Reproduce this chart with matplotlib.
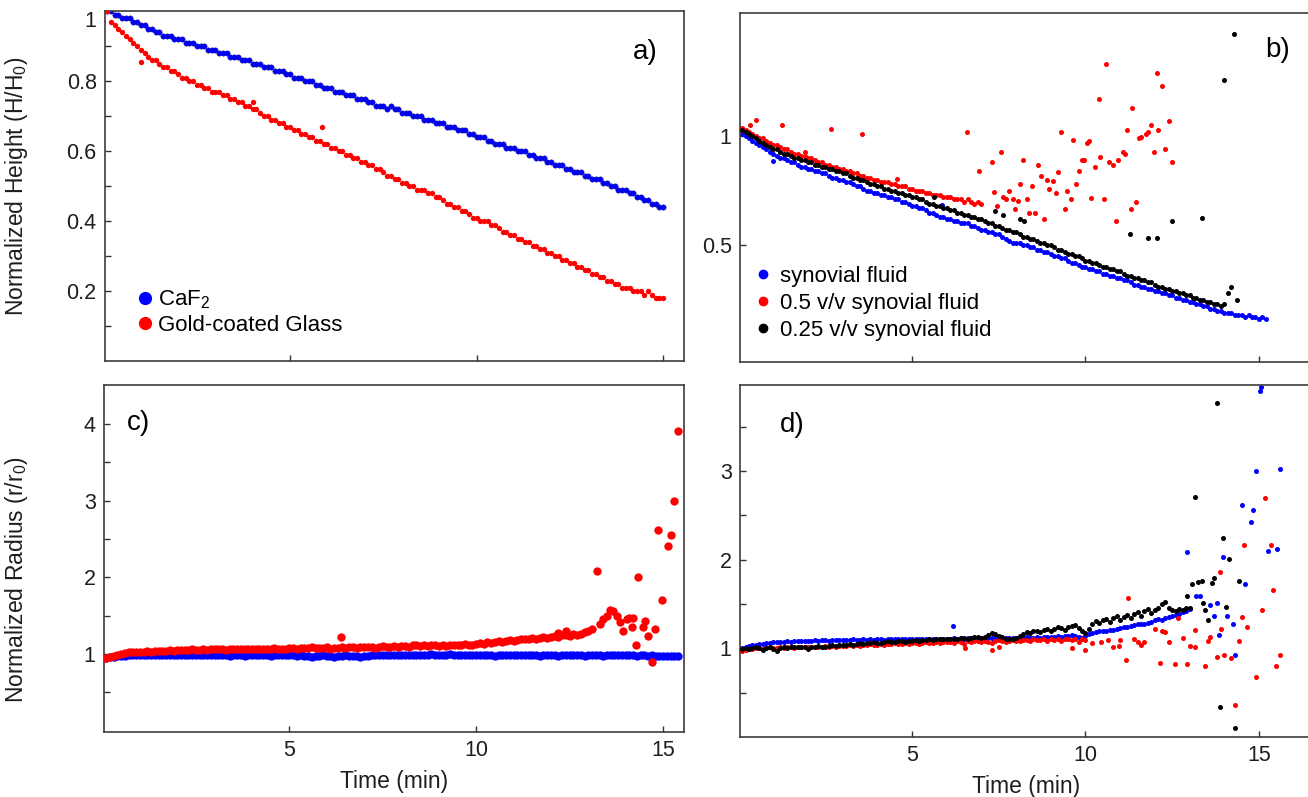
import numpy as np
import matplotlib
matplotlib.use('Agg')
import matplotlib.pyplot as plt
from matplotlib.lines import Line2D

plt.rcParams['font.family'] = ['Liberation Sans', 'DejaVu Sans']
plt.rcParams['mathtext.fontset'] = 'custom'
plt.rcParams['mathtext.rm'] = 'Liberation Sans'
plt.rcParams['mathtext.it'] = 'Liberation Sans:italic'

# ---- panel a: normalized height, sampled every 0.1 min from 0.1 min ----
blue_a = [1.00, 1.00, 0.99, 0.99, 0.98, 0.98, 0.98, 0.97, 0.97, 0.96,
          0.96, 0.95, 0.95, 0.94, 0.94, 0.93, 0.93, 0.93, 0.92, 0.92,
          0.92, 0.91, 0.91, 0.91, 0.90, 0.90, 0.90, 0.89, 0.89, 0.89,
          0.88, 0.88, 0.88, 0.87, 0.87, 0.87, 0.86, 0.86, 0.86, 0.85,
          0.85, 0.85, 0.84, 0.84, 0.84, 0.83, 0.83, 0.83, 0.82, 0.82,
          0.81, 0.81, 0.81, 0.80, 0.80, 0.80, 0.79, 0.79, 0.78, 0.78,
          0.78, 0.77, 0.77, 0.77, 0.76, 0.76, 0.76, 0.75, 0.75, 0.75,
          0.74, 0.74, 0.73, 0.73, 0.73, 0.72, 0.73, 0.72, 0.72, 0.71,
          0.71, 0.71, 0.70, 0.70, 0.70, 0.69, 0.69, 0.69, 0.68, 0.68,
          0.68, 0.67, 0.67, 0.67, 0.66, 0.66, 0.66, 0.65, 0.65, 0.64,
          0.64, 0.64, 0.63, 0.63, 0.62, 0.62, 0.62, 0.61, 0.61, 0.61,
          0.60, 0.60, 0.60, 0.59, 0.59, 0.58, 0.58, 0.58, 0.57, 0.57,
          0.56, 0.56, 0.56, 0.55, 0.55, 0.54, 0.54, 0.54, 0.53, 0.53,
          0.52, 0.52, 0.52, 0.51, 0.51, 0.50, 0.50, 0.49, 0.49, 0.49,
          0.48, 0.48, 0.47, 0.47, 0.46, 0.46, 0.45, 0.45, 0.44, 0.44]
red_a = [1.00, 0.97, 0.96, 0.95, 0.94, 0.93, 0.92, 0.91, 0.90, 0.89,
         0.88, 0.87, 0.86, 0.86, 0.85, 0.84, 0.84, 0.83, 0.83, 0.82,
         0.81, 0.81, 0.80, 0.80, 0.79, 0.79, 0.78, 0.78, 0.77, 0.77,
         0.77, 0.76, 0.76, 0.75, 0.75, 0.74, 0.74, 0.73, 0.73, 0.72,
         0.72, 0.71, 0.70, 0.70, 0.69, 0.69, 0.68, 0.68, 0.67, 0.67,
         0.66, 0.66, 0.65, 0.65, 0.64, 0.64, 0.63, 0.63, 0.62, 0.62,
         0.61, 0.61, 0.60, 0.60, 0.59, 0.59, 0.58, 0.58, 0.57, 0.57,
         0.56, 0.56, 0.55, 0.55, 0.54, 0.53, 0.53, 0.52, 0.52, 0.51,
         0.51, 0.50, 0.50, 0.49, 0.49, 0.49, 0.48, 0.48, 0.47, 0.47,
         0.46, 0.45, 0.45, 0.44, 0.44, 0.43, 0.43, 0.42, 0.41, 0.41,
         0.40, 0.40, 0.40, 0.39, 0.39, 0.38, 0.37, 0.37, 0.36, 0.36,
         0.35, 0.35, 0.34, 0.34, 0.33, 0.33, 0.32, 0.32, 0.31, 0.31,
         0.30, 0.30, 0.29, 0.29, 0.28, 0.28, 0.27, 0.27, 0.26, 0.26,
         0.25, 0.25, 0.24, 0.24, 0.23, 0.23, 0.22, 0.22, 0.21, 0.21,
         0.21, 0.20, 0.20, 0.20, 0.19, 0.20, 0.19, 0.18, 0.18, 0.18]
red_a_out_t = [1.0, 4.02, 5.85]
red_a_out_y = [0.855, 0.74, 0.669]

# ---- panel b: normalized height for the synovial fluid dilutions ----
blue_b = [1.01, 1.00, 0.99, 0.98, 0.97, 0.96, 0.95, 0.94, 0.93, 0.92,
          0.91, 0.90, 0.90, 0.89, 0.88, 0.88, 0.87, 0.86, 0.86, 0.85,
          0.85, 0.84, 0.84, 0.83, 0.83, 0.82, 0.81, 0.81, 0.80, 0.80,
          0.79, 0.79, 0.78, 0.77, 0.77, 0.76, 0.75, 0.75, 0.74, 0.74,
          0.73, 0.73, 0.72, 0.72, 0.71, 0.71, 0.70, 0.70, 0.69, 0.68,
          0.68, 0.67, 0.67, 0.66, 0.65, 0.65, 0.64, 0.63, 0.63, 0.62,
          0.62, 0.61, 0.61, 0.60, 0.60, 0.60, 0.59, 0.59, 0.58, 0.57,
          0.57, 0.56, 0.56, 0.55, 0.55, 0.54, 0.53, 0.52, 0.51, 0.51,
          0.51, 0.50, 0.50, 0.49, 0.49, 0.48, 0.48, 0.47, 0.47, 0.46,
          0.45, 0.45, 0.44, 0.44, 0.43, 0.42, 0.42, 0.41, 0.40, 0.40,
          0.39, 0.39, 0.38, 0.38, 0.37, 0.37, 0.36, 0.36, 0.35, 0.35,
          0.34, 0.34, 0.33, 0.32, 0.32, 0.31, 0.31, 0.30, 0.30, 0.29,
          0.29, 0.28, 0.28, 0.27, 0.27, 0.26, 0.26, 0.25, 0.25, 0.24,
          0.24, 0.23, 0.23, 0.22, 0.22, 0.21, 0.21, 0.20, 0.20, 0.19,
          0.19, 0.19, 0.18, 0.18, 0.18, 0.17, 0.18, 0.17, 0.17, 0.16,
          0.17, 0.16]
black_b = [1.03, 1.02, 1.01, 1.00, 0.99, 0.98, 0.97, 0.96, 0.95, 0.94,
           0.94, 0.93, 0.92, 0.92, 0.91, 0.90, 0.90, 0.89, 0.89, 0.88,
           0.88, 0.87, 0.87, 0.86, 0.86, 0.85, 0.85, 0.84, 0.84, 0.83,
           0.83, 0.82, 0.81, 0.81, 0.80, 0.80, 0.79, 0.78, 0.78, 0.77,
           0.77, 0.76, 0.76, 0.75, 0.75, 0.74, 0.74, 0.73, 0.73, 0.72,
           0.72, 0.71, 0.71, 0.70, 0.69, 0.69, 0.68, 0.68, 0.67, 0.67,
           0.66, 0.66, 0.65, 0.65, 0.64, 0.64, 0.63, 0.63, 0.62, 0.62,
           0.61, 0.60, 0.60, 0.59, 0.59, 0.58, 0.57, 0.57, 0.56, 0.56,
           0.55, 0.54, 0.54, 0.53, 0.53, 0.52, 0.51, 0.51, 0.50, 0.50,
           0.49, 0.48, 0.48, 0.47, 0.46, 0.46, 0.45, 0.45, 0.44, 0.43,
           0.43, 0.42, 0.42, 0.41, 0.40, 0.40, 0.39, 0.39, 0.38, 0.38,
           0.37, 0.36, 0.36, 0.35, 0.35, 0.34, 0.34, 0.33, 0.33, 0.32,
           0.31, 0.31, 0.30, 0.30, 0.29, 0.29, 0.28, 0.28, 0.27, 0.27,
           0.26, 0.26, 0.25, 0.25, 0.24, 0.24, 0.23, 0.23, 0.22, 0.23]
red_b = [1.04, 1.03, 1.02, 1.01, 1.00, 0.99, 0.99, 0.98, 0.97, 0.96,
         0.96, 0.95, 0.94, 0.94, 0.93, 0.92, 0.92, 0.91, 0.91, 0.90,
         0.90, 0.89, 0.88, 0.88, 0.87, 0.87, 0.86, 0.86, 0.85, 0.85,
         0.84, 0.84, 0.83, 0.83, 0.82, 0.82, 0.81, 0.81, 0.80, 0.80,
         0.79, 0.79, 0.79, 0.78, 0.78, 0.77, 0.77, 0.77, 0.76, 0.76,
         0.75, 0.75, 0.75, 0.74, 0.74, 0.73, 0.73, 0.73, 0.72, 0.72,
         0.72, 0.71, 0.71, 0.71, 0.70, 0.71, 0.70, 0.69, 0.70, 0.69]
blue_b_out_t = [1.0, 5.86]
blue_b_out_y = [0.886, 0.683]
black_b_out_t = [5.64, 7.4, 7.63, 8.12, 8.24, 11.27, 11.8, 12.05, 12.5, 13.35,
                 14.0, 14.28, 14.1, 14.2, 14.36]
black_b_out_y = [0.72, 0.655, 0.64, 0.62, 0.61, 0.55, 0.535, 0.535, 0.61, 0.625,
                 1.26, 1.47, 0.28, 0.31, 0.25]
red_b_out_t = [0.33, 0.5, 1.24, 1.92, 2.67, 3.55, 4.56, 6.58,
               6.94, 7.3, 7.37, 7.45, 7.55, 7.63, 7.72, 7.8, 7.92, 7.98,
               8.06, 8.12, 8.2, 8.3, 8.38, 8.47, 8.55, 8.64, 8.73, 8.8,
               8.9, 8.96, 9.05, 9.16, 9.22, 9.3, 9.4, 9.48, 9.57, 9.65,
               9.74, 9.8, 9.9, 9.97, 10.05, 10.1, 10.17, 10.26, 10.4, 10.43,
               10.52, 10.6, 10.67, 10.78, 10.87, 10.95, 11.07, 11.13, 11.2, 11.3,
               11.35, 11.47, 11.55, 11.6, 11.75, 11.8, 11.9, 11.97, 12.05, 12.1,
               12.2, 12.3, 12.4, 12.5]
red_b_out_y = [1.053, 1.073, 1.053, 0.927, 1.034, 1.012, 0.805, 1.02,
               0.84, 0.88, 0.745, 0.68, 0.93, 0.72, 0.71, 0.75, 0.71, 0.665,
               0.705, 0.78, 0.89, 0.71, 0.65, 0.77, 0.65, 0.87, 0.82, 0.62,
               0.80, 0.76, 0.795, 0.74, 0.835, 1.02, 0.665, 0.75, 0.71, 0.985,
               0.78, 0.84, 0.89, 0.89, 0.97, 0.98, 0.715, 0.86, 1.17, 0.906,
               0.71, 1.33, 0.88, 0.87, 0.61, 0.89, 0.93, 0.92, 1.03, 0.665,
               1.13, 0.70, 0.99, 0.995, 1.01, 1.02, 1.05, 0.93, 1.29, 1.03,
               1.23, 0.94, 1.07, 0.88]

# ---- panel c: normalized radius ----
blue_c = [0.95, 0.96, 0.96, 0.97, 0.97, 0.97, 0.98, 0.98, 0.98, 0.98,
          0.98, 0.98, 0.98, 0.99, 0.98, 0.98, 0.98, 0.98, 0.98, 0.98,
          0.98, 0.98, 0.99, 0.98, 0.98, 0.98, 0.98, 0.98, 0.98, 0.98,
          0.98, 0.98, 0.98, 0.97, 0.98, 0.98, 0.98, 0.97, 0.98, 0.98,
          0.98, 0.98, 0.98, 0.98, 0.97, 0.98, 0.98, 0.98, 0.98, 0.98,
          0.98, 0.97, 0.98, 0.97, 0.97, 0.96, 0.97, 0.97, 0.98, 0.97,
          0.97, 0.96, 0.97, 0.97, 0.98, 0.97, 0.97, 0.97, 0.96, 0.97,
          0.97, 0.98, 0.98, 0.98, 0.98, 0.98, 0.98, 0.98, 0.98, 0.98,
          0.98, 0.98, 0.98, 0.99, 0.99, 0.99, 0.99, 1.00, 0.99, 0.99,
          0.99, 0.99, 1.00, 0.99, 0.99, 0.99, 0.99, 0.98, 0.98, 0.98,
          0.98, 0.98, 0.98, 0.98, 0.97, 0.98, 0.98, 0.98, 0.98, 0.98,
          0.98, 0.98, 0.98, 0.98, 0.98, 0.98, 0.97, 0.98, 0.98, 0.98,
          0.98, 0.97, 0.98, 0.98, 0.98, 0.98, 0.98, 0.98, 0.97, 0.98,
          0.98, 0.98, 0.98, 0.97, 0.98, 0.98, 0.98, 0.98, 0.98, 0.98,
          0.98, 0.98, 0.97, 0.98, 0.98, 0.97, 0.98, 0.97, 0.97, 0.97,
          0.97, 0.97, 0.97, 0.97]
red_c = [0.95, 0.96, 0.97, 0.99, 1.00, 1.01, 1.02, 1.02, 1.02, 1.03,
         1.03, 1.04, 1.03, 1.04, 1.04, 1.04, 1.04, 1.05, 1.04, 1.05,
         1.05, 1.05, 1.05, 1.06, 1.05, 1.05, 1.06, 1.05, 1.06, 1.06,
         1.06, 1.06, 1.05, 1.06, 1.06, 1.07, 1.06, 1.06, 1.07, 1.06,
         1.07, 1.07, 1.06, 1.07, 1.07, 1.08, 1.07, 1.07, 1.07, 1.08,
         1.08, 1.07, 1.08, 1.08, 1.08, 1.09, 1.08, 1.08, 1.08, 1.09,
         1.06, 1.08, 1.08, 1.09, 1.08, 1.09, 1.09, 1.08, 1.09, 1.09,
         1.09, 1.09, 1.08, 1.09, 1.10, 1.09, 1.09, 1.10, 1.09, 1.10,
         1.10, 1.09, 1.11, 1.11, 1.10, 1.11, 1.10, 1.11, 1.11, 1.10,
         1.11, 1.10, 1.11, 1.12, 1.11, 1.12, 1.13, 1.11, 1.12, 1.13,
         1.14, 1.13, 1.15, 1.14, 1.16, 1.17, 1.16, 1.17, 1.18, 1.17,
         1.18, 1.19, 1.20, 1.19, 1.21, 1.20, 1.21, 1.22, 1.21, 1.22,
         1.23, 1.22, 1.24, 1.25, 1.23, 1.26, 1.24, 1.26, 1.28, 1.30]
red_c_out_t = [6.37, 12.4, 12.2, 13.1, 13.22, 13.31, 13.4, 13.49, 13.58, 13.67,
               13.76, 13.85, 13.94, 14.03, 14.1, 14.16, 14.2, 14.28, 14.34, 14.47,
               14.52, 14.6, 14.7, 14.78, 14.87, 14.96, 15.14, 15.2, 15.28, 15.39]
red_c_out_y = [1.22, 1.30, 1.27, 1.33, 2.08, 1.39, 1.45, 1.50, 1.57, 1.56,
               1.50, 1.41, 1.30, 1.46, 1.47, 1.35, 1.47, 1.11, 2.01, 1.35,
               1.43, 1.23, 0.89, 1.33, 2.62, 1.70, 2.41, 2.55, 3.00, 3.91]

# ---- panel d: normalized radius for the synovial fluid dilutions ----
blue_d = [1.00, 1.02, 1.03, 1.04, 1.04, 1.05, 1.05, 1.06, 1.06, 1.07,
          1.07, 1.07, 1.07, 1.08, 1.07, 1.08, 1.08, 1.08, 1.08, 1.08,
          1.08, 1.09, 1.08, 1.09, 1.09, 1.08, 1.09, 1.09, 1.09, 1.09,
          1.09, 1.09, 1.10, 1.09, 1.09, 1.10, 1.09, 1.10, 1.09, 1.10,
          1.10, 1.09, 1.10, 1.10, 1.10, 1.10, 1.10, 1.11, 1.10, 1.10,
          1.10, 1.11, 1.10, 1.11, 1.11, 1.10, 1.11, 1.11, 1.11, 1.11,
          1.11, 1.12, 1.11, 1.12, 1.11, 1.12, 1.12, 1.11, 1.12, 1.12,
          1.12, 1.12, 1.12, 1.12, 1.13, 1.12, 1.12, 1.12, 1.12, 1.12,
          1.12, 1.12, 1.13, 1.12, 1.12, 1.13, 1.12, 1.13, 1.13, 1.13,
          1.13, 1.14, 1.13, 1.14, 1.14, 1.15, 1.14, 1.13, 1.12, 1.14,
          1.16, 1.17, 1.18, 1.19, 1.19, 1.20, 1.21, 1.21, 1.22, 1.23,
          1.24, 1.24, 1.25, 1.26, 1.27, 1.28, 1.28, 1.29, 1.30, 1.32,
          1.33, 1.32, 1.34, 1.35, 1.37, 1.38, 1.39, 1.41, 1.42, 1.44]
black_d = [0.99, 1.00, 0.99, 1.00, 1.01, 1.00, 0.98, 1.00, 1.01, 0.99,
           0.97, 1.00, 1.01, 1.00, 1.01, 1.02, 1.01, 1.02, 1.01, 0.99,
           1.02, 1.02, 1.03, 1.02, 1.01, 1.03, 1.04, 1.03, 1.04, 1.04,
           1.04, 1.05, 1.04, 1.05, 1.06, 1.05, 1.06, 1.06, 1.07, 1.06,
           1.06, 1.07, 1.08, 1.07, 1.07, 1.08, 1.08, 1.07, 1.08, 1.08,
           1.09, 1.08, 1.09, 1.09, 1.10, 1.09, 1.10, 1.10, 1.10, 1.11,
           1.10, 1.11, 1.11, 1.12, 1.12, 1.11, 1.12, 1.13, 1.13, 1.12,
           1.13, 1.15, 1.17, 1.16, 1.14, 1.13, 1.11, 1.10, 1.11, 1.12,
           1.14, 1.16, 1.18, 1.17, 1.19, 1.20, 1.18, 1.21, 1.22, 1.20,
           1.22, 1.24, 1.23, 1.21, 1.24, 1.25, 1.26, 1.23, 1.20, 1.17,
           1.22, 1.27, 1.31, 1.29, 1.32, 1.33, 1.30, 1.34, 1.36, 1.32,
           1.35, 1.38, 1.34, 1.39, 1.41, 1.37, 1.42, 1.44, 1.40, 1.43,
           1.46, 1.50, 1.52, 1.45, 1.43, 1.42, 1.44, 1.43, 1.46, 1.46]
red_d = [0.97, 0.98, 0.99, 0.99, 1.00, 1.00, 0.99, 1.00, 1.01, 1.00,
         1.00, 1.01, 1.00, 1.01, 1.01, 1.00, 1.01, 1.02, 1.01, 1.02,
         1.02, 1.01, 1.02, 1.02, 1.03, 1.02, 1.03, 1.02, 1.03, 1.03,
         1.03, 1.04, 1.03, 1.04, 1.03, 1.04, 1.04, 1.05, 1.04, 1.04,
         1.05, 1.04, 1.05, 1.05, 1.06, 1.05, 1.05, 1.06, 1.05, 1.06,
         1.06, 1.05, 1.06, 1.07, 1.06, 1.06, 1.07, 1.06, 1.07, 1.07,
         1.07, 1.06, 1.08, 1.07, 1.05, 1.08, 1.07, 1.08, 1.08, 1.07,
         1.08, 1.07, 1.06, 1.08, 1.09, 1.08, 1.07, 1.08, 1.09, 1.08,
         1.08, 1.09, 1.09, 1.08, 1.10, 1.09, 1.09, 1.10, 1.08, 1.10,
         1.09, 1.10, 1.08, 1.10, 1.11, 1.09, 1.10, 1.07, 1.10, 1.09]
blue_d_out_t = [6.19, 12.92, 13.2, 13.3, 13.6, 13.7, 13.78, 13.86, 13.95, 14.07,
                14.24, 14.31, 14.5, 14.6, 14.76, 14.84, 14.91, 15.02, 15.07, 15.25,
                15.53, 15.6]
blue_d_out_y = [1.25, 2.09, 1.59, 1.59, 1.49, 1.37, 1.51, 1.15, 2.03, 1.37,
                1.27, 0.93, 2.62, 1.72, 2.42, 2.56, 3.00, 3.90, 3.95, 2.10,
                2.12, 3.02]
black_d_out_t = [12.92, 13.06, 13.16, 13.25, 13.35, 13.4, 13.45, 13.54, 13.64, 13.7,
                 13.78, 13.88, 13.95, 14.05, 14.14, 14.31, 14.42]
black_d_out_y = [1.59, 1.72, 2.71, 1.75, 1.76, 1.51, 1.43, 1.32, 1.74, 1.79,
                 3.77, 0.34, 2.24, 1.47, 2.01, 0.10, 1.76]
red_d_out_t = [6.53, 7.3, 7.5, 9.6, 10.0, 10.2, 10.45, 10.65, 10.8, 10.97,
               11.0, 11.16, 11.23, 11.4, 11.5, 11.6, 11.7, 12.0, 12.15, 12.2,
               12.29, 12.4, 12.58, 12.67, 12.82, 12.92, 13.01, 13.15, 13.16, 13.44,
               13.54, 13.59, 13.78, 13.88, 13.92, 14.0, 14.2, 14.32, 14.42, 14.5,
               14.58, 14.67, 14.92, 15.1, 15.17, 15.35, 15.42, 15.5, 15.6]
red_d_out_y = [1.00, 0.98, 1.02, 1.00, 0.98, 1.06, 1.07, 1.09, 1.02, 1.03,
               1.09, 0.87, 1.57, 1.11, 1.07, 1.04, 1.07, 1.22, 0.84, 1.19,
               1.18, 1.07, 0.82, 1.34, 1.12, 0.82, 1.03, 1.21, 1.01, 0.80,
               1.08, 1.13, 0.90, 1.86, 1.22, 0.93, 0.89, 0.36, 1.08, 1.35,
               2.16, 1.24, 0.68, 1.43, 2.69, 2.16, 1.66, 0.80, 0.93]


def times(values):
    # dense series are recorded every 0.1 min, starting at 0.1 min
    return np.round(np.arange(1, len(values) + 1) * 0.1, 1)


BLUE, RED, BLACK = '#0000ff', '#ff0000', '#000000'
W, H = 1308, 797
fig = plt.figure(figsize=(W / 100, H / 100), dpi=100)


def panel(left, top, right, bottom):
    return fig.add_axes([left / W, 1 - bottom / H, (right - left) / W, (bottom - top) / H])


def style(ax, xlim, ylim, yticks, ylabels, minor=(), show_x=False):
    ax.set_xlim(*xlim)
    ax.set_ylim(*ylim)
    ax.set_xticks([5, 10, 15])
    ax.set_xticklabels(['5', '10', '15'] if show_x else [])
    ax.set_yticks(yticks)
    ax.set_yticklabels(ylabels)
    ax.set_yticks(list(minor), minor=True)
    ax.tick_params(which='both', direction='in', length=4, width=1, color='#333333',
                   labelcolor='#1e1e1e', labelsize=15.5, pad=6, top=False, right=False)
    for s in ax.spines.values():
        s.set_color('#3c3c3c')
        s.set_linewidth(1.2)


ax_a = panel(105, 11, 684, 361)
ax_b = panel(740, 13, 1312, 362)
ax_c = panel(104, 385, 684, 732)
ax_d = panel(740, 385, 1312, 737)

S_AB = 15   # marker area for the height curves
S_C = 36    # panel c uses larger dots
S_D = 13

# a)
ax_a.scatter(times(blue_a), blue_a, s=S_AB, c=BLUE, edgecolors='#10108a', linewidths=0.3, zorder=2)
ax_a.scatter(times(red_a), red_a, s=S_AB, c=RED, linewidths=0, zorder=3)
ax_a.scatter(red_a_out_t, red_a_out_y, s=S_AB, c=RED, linewidths=0, zorder=3)
style(ax_a, (0.04, 15.56), (0.0, 1.0), [0.2, 0.4, 0.6, 0.8, 1.0],
      ['0.2', '0.4', '0.6', '0.8', '1'], minor=[0.1, 0.3, 0.5, 0.7, 0.9])
ax_a.get_yticklabels()[-1].set_va('top')
ax_a.set_ylabel('Normalized Height (H/H$\\mathregular{_0}$)', fontsize=16.5, color='#1e1e1e')
ax_a.yaxis.set_label_coords(-0.13, 0.5)
ax_a.text(0.933, 0.883, 'a)', transform=ax_a.transAxes, fontsize=20, ha='center', va='center')
leg_a = [Line2D([], [], ls='', marker='o', ms=8.5, color=BLUE, label='CaF$\\mathregular{_2}$'),
         Line2D([], [], ls='', marker='o', ms=8.5, color=RED, label='Gold-coated Glass')]
ax_a.legend(handles=leg_a, loc='center left', bbox_to_anchor=(0.06, 0.139), frameon=False,
            fontsize=16, handlelength=0.5, handletextpad=0.3, labelspacing=0.15, borderpad=0,
            borderaxespad=0)

# b)
ax_b.scatter(times(blue_b), blue_b, s=S_D, c=BLUE, linewidths=0, zorder=2)
ax_b.scatter(blue_b_out_t, blue_b_out_y, s=S_D, c=BLUE, linewidths=0, zorder=2)
ax_b.scatter(times(red_b), red_b, s=S_D, c=RED, linewidths=0, zorder=3)
ax_b.scatter(red_b_out_t, red_b_out_y, s=S_D, c=RED, linewidths=0, zorder=3)
ax_b.scatter(times(black_b), black_b, s=S_D, c=BLACK, linewidths=0, zorder=4)
ax_b.scatter(black_b_out_t, black_b_out_y, s=S_D, c=BLACK, linewidths=0, zorder=4)
style(ax_b, (0.04, 16.53), (-0.035, 1.565), [0.5, 1.0], ['0.5', '1'])
ax_b.text(0.94, 0.894, 'b)', transform=ax_b.transAxes, fontsize=20, ha='center', va='center')
leg_b = [Line2D([], [], ls='', marker='o', ms=6, color=BLUE, label='synovial fluid'),
         Line2D([], [], ls='', marker='o', ms=6, color=RED, label='0.5 v/v synovial fluid'),
         Line2D([], [], ls='', marker='o', ms=6, color=BLACK, label='0.25 v/v synovial fluid')]
ax_b.legend(handles=leg_b, loc='center left', bbox_to_anchor=(0.031, 0.168), frameon=False,
            fontsize=16, handlelength=0.5, handletextpad=0.5, labelspacing=0.28, borderpad=0,
            borderaxespad=0)

# c)
ax_c.scatter(times(blue_c), blue_c, s=S_C, c=BLUE, linewidths=0, zorder=2)
ax_c.scatter(times(red_c), red_c, s=S_C, c=RED, linewidths=0, zorder=3)
ax_c.scatter(red_c_out_t, red_c_out_y, s=S_C, c=RED, linewidths=0, zorder=3)
style(ax_c, (0.04, 15.56), (-0.02, 4.51), [1, 2, 3, 4], ['1', '2', '3', '4'],
      minor=[0.5, 1.5, 2.5, 3.5], show_x=True)
ax_c.set_ylabel('Normalized Radius (r/r$\\mathregular{_0}$)', fontsize=16.5, color='#1e1e1e')
ax_c.yaxis.set_label_coords(-0.128, 0.44)
ax_c.set_xlabel('Time (min)', fontsize=16.5, color='#1e1e1e', labelpad=6)
ax_c.text(0.06, 0.89, 'c)', transform=ax_c.transAxes, fontsize=20, ha='center', va='center')

# d)
ax_d.scatter(times(blue_d), blue_d, s=S_D, c=BLUE, linewidths=0, zorder=2)
ax_d.scatter(blue_d_out_t, blue_d_out_y, s=S_D, c=BLUE, linewidths=0, zorder=2)
ax_d.scatter(times(red_d), red_d, s=S_D, c=RED, linewidths=0, zorder=3)
ax_d.scatter(red_d_out_t, red_d_out_y, s=S_D, c=RED, linewidths=0, zorder=3)
ax_d.scatter(times(black_d), black_d, s=S_D, c=BLACK, linewidths=0, zorder=4)
ax_d.scatter(black_d_out_t, black_d_out_y, s=S_D, c=BLACK, linewidths=0, zorder=4)
style(ax_d, (0.04, 16.53), (0.0, 3.97), [1, 2, 3], ['1', '2', '3'],
      minor=[0.5, 1.5, 2.5, 3.5], show_x=True)
ax_d.set_xlabel('Time (min)', fontsize=16.5, color='#1e1e1e', labelpad=6)
ax_d.text(0.091, 0.886, 'd)', transform=ax_d.transAxes, fontsize=20, ha='center', va='center')

fig.savefig('out.png', dpi=100, facecolor='white')
plt.close(fig)
